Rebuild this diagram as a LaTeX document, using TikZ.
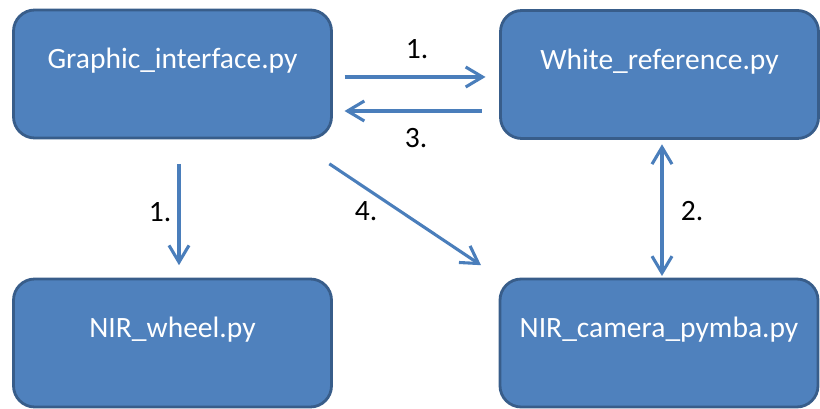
\documentclass[tikz,border=0pt]{standalone}
\usepackage{fontspec}
\setmainfont{Carlito}
\usetikzlibrary{arrows.meta}
\definecolor{boxfill}{HTML}{4F81BD}
\definecolor{boxline}{HTML}{385D8A}
\definecolor{linkblue}{HTML}{4A7EBB}
\begin{document}
\begin{tikzpicture}[
  pybox/.style={draw=boxline, fill=boxfill, line width=2pt, rounded corners=0.53cm, rectangle, minimum width=7.95cm, minimum height=3.2cm, text=white, font=\fontsize{21pt}{25pt}\selectfont, text height=0.5cm, text depth=0.75cm, inner sep=0pt},
  link/.style={draw=linkblue, line width=2.2pt, -{Straight Barb[length=0.42cm, width=0.5cm, line width=2.2pt]}},
  num/.style={font=\fontsize{21pt}{25pt}\selectfont, text=black, inner sep=0pt}]
\useasboundingbox (0,0) rectangle (20.5,10.225);
\node[pybox] (gui) at (4.3125,8.375) {Graphic\_interface.py};
\node[pybox] (wr) at (16.4875,8.3625) {White\_reference.py};
\node[pybox] (wheel) at (4.3125,1.65) {NIR\_wheel.py};
\node[pybox] (cam) at (16.475,1.65) {NIR\_camera\_pymba.py};
\node[num] (n1a) at (10.425,9.0) {1.};
\node[num] (n3) at (10.4,6.775) {3.};
\node[num] (n1b) at (4.0,4.925) {1.};
\node[num] (n4) at (9.15,4.95) {4.};
\node[num] (n2) at (17.3,4.95) {2.};
\draw[link, shorten <=0.29cm, shorten >=0.34cm] ([yshift=-0.075cm]gui.east) -- ([yshift=-0.0625cm]wr.west);
\draw[link, shorten <=0.43cm, shorten >=0.29cm] ([yshift=-0.9125cm]wr.west) -- ([yshift=-0.925cm]gui.east);
\draw[link, shorten <=0.61cm, shorten >=0.31cm] ([xshift=0.1625cm]gui.south) -- ([xshift=0.1625cm]wheel.north);
\draw[link] ([shift={(-0.09cm,-0.61cm)}]gui.south east) -- ([shift={(-0.44cm,0.31cm)}]cam.north west);
\draw[link, {Straight Barb[length=0.42cm, width=0.5cm, line width=2.2pt]}-{Straight Barb[length=0.42cm, width=0.5cm, line width=2.2pt]}, shorten <=0.11cm, shorten >=0.04cm] ([xshift=0.0625cm]wr.south) -- ([xshift=0.075cm]cam.north);
\end{tikzpicture}
\end{document}
